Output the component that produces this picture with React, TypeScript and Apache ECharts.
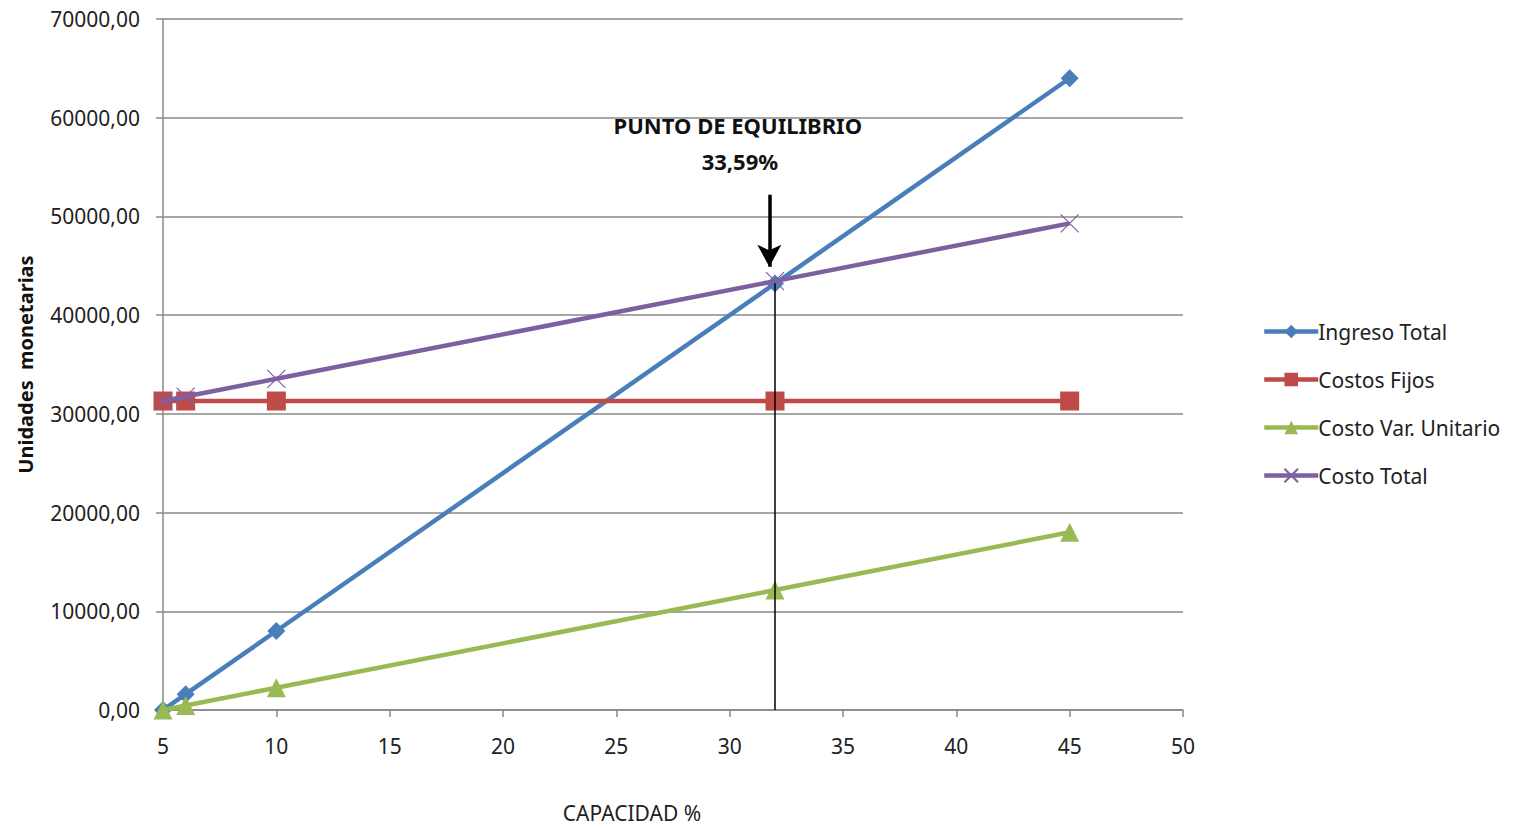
import React, { useEffect, useRef } from "react";
import * as echarts from "echarts";

// Capacidad utilizada (%)
const capacidad = [5, 6, 10, 32, 45];
const ingresoTotal = [0, 1600, 8000, 43200, 64000];
const costosFijos = [31300, 31300, 31300, 31300, 31300];
const costoVarUnitario = [0, 450, 2250, 12150, 18000];
const costoTotal = [31300, 31750, 33550, 43450, 49300];

const seriesNames = ["Ingreso Total", "Costos Fijos", "Costo Var. Unitario", "Costo Total"];
const seriesColors = ["#4A7EBB", "#BE4B48", "#98B954", "#7D60A0"];
const seriesSymbols = ["diamond", "rect", "triangle", "path://M0,0L10,10M10,0L0,10"];
const symbolSizes = [18, 19, 19, 18];

const equilibrioX = 32;
const equilibrioY = 43300;
const tituloEquilibrio = "PUNTO DE EQUILIBRIO";
const porcentajeEquilibrio = "33,59%";

const FONT = "'Noto Sans', 'Open Sans', sans-serif";

export default function App() {
  const ref = useRef<HTMLDivElement>(null);

  useEffect(() => {
    if (!ref.current) return;
    const chart = echarts.init(ref.current, undefined, { renderer: "svg" });
    const values = [ingresoTotal, costosFijos, costoVarUnitario, costoTotal];

    const series: any[] = values.map((vals, i) => ({
      name: seriesNames[i],
      type: "line",
      data: capacidad.map((c, k) => [c, vals[k]]),
      symbol: seriesSymbols[i],
      symbolSize: symbolSizes[i],
      lineStyle: { width: 4.5, color: seriesColors[i] },
      itemStyle:
        i === 3
          ? { color: "transparent", borderColor: seriesColors[i], borderWidth: 1.2 }
          : { color: seriesColors[i] },
      z: 2 + i,
    }));

    // línea vertical del punto de equilibrio, flecha y rótulo
    series.push({
      name: "equilibrio",
      type: "line",
      data: [],
      silent: true,
      markLine: {
        silent: true,
        animation: false,
        label: { show: false },
        data: [
          [
            { coord: [equilibrioX, equilibrioY], symbol: "none", lineStyle: { color: "#000", width: 1.5, type: "solid" } },
            { coord: [equilibrioX, 0], symbol: "none" },
          ],
          [
            { coord: [31.75, 52200], symbol: "none", lineStyle: { color: "#000", width: 3.5, type: "solid" } },
            { coord: [31.75, 44900], symbol: "arrow", symbolSize: [18, 22] },
          ],
        ],
      },
      markPoint: {
        silent: true,
        symbolSize: 0,
        data: [
          {
            coord: [30.36, 59300],
            label: { show: true, formatter: tituloEquilibrio, color: "#111", fontSize: 22, fontWeight: "bold", fontFamily: FONT },
          },
          {
            coord: [30.45, 55600],
            label: { show: true, formatter: porcentajeEquilibrio, color: "#111", fontSize: 22, fontWeight: "bold", fontFamily: FONT },
          },
        ],
      },
    });

    chart.setOption({
      animation: false,
      backgroundColor: "#fff",
      grid: { left: 163, right: 334, top: 19, bottom: 116, containLabel: false },
      legend: {
        orient: "vertical",
        left: 1257,
        top: 316,
        itemWidth: 54,
        itemHeight: 17,
        itemGap: 27,
        data: seriesNames,
        lineStyle: { width: 4.5 },
        textStyle: { fontSize: 21, color: "#222", fontFamily: FONT, padding: [0, 0, 0, -5] },
      },
      xAxis: {
        type: "value",
        min: 5,
        max: 50,
        interval: 5,
        name: "CAPACIDAD %",
        nameLocation: "middle",
        nameGap: 92,
        nameTextStyle: { fontSize: 21, color: "#222", fontFamily: FONT, padding: [0, 82, 0, 0] },
        axisLine: { show: true, lineStyle: { color: "#888", width: 1.5 } },
        axisTick: { show: true, length: 7, lineStyle: { color: "#888", width: 1.5 } },
        axisLabel: { fontSize: 21, color: "#222", fontFamily: FONT, margin: 25 },
        splitLine: { show: false },
      },
      yAxis: {
        type: "value",
        min: 0,
        max: 70000,
        interval: 10000,
        name: "Unidades  monetarias",
        nameLocation: "middle",
        nameGap: 128,
        nameTextStyle: { fontSize: 20, fontWeight: "bold", color: "#111", fontFamily: FONT },
        axisLine: { show: true, lineStyle: { color: "#888", width: 1.5 } },
        axisTick: { show: true, length: 7, lineStyle: { color: "#888", width: 1.5 } },
        axisLabel: {
          fontSize: 21,
          color: "#222",
          fontFamily: FONT,
          margin: 23,
          formatter: (v: number) => v.toFixed(2).replace(".", ","),
        },
        splitLine: { show: true, lineStyle: { color: "#888", width: 1.5 } },
      },
      series,
    });

    return () => chart.dispose();
  }, []);

  return (
    <div
      ref={ref}
      style={{ position: "fixed", left: 0, top: 0, width: 1517, height: 828, background: "#fff" }}
    />
  );
}
